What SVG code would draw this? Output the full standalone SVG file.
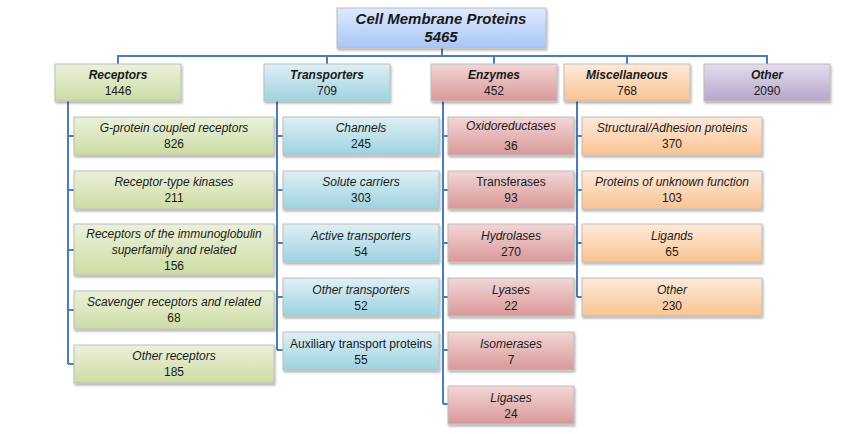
<svg xmlns="http://www.w3.org/2000/svg" width="862" height="434" viewBox="0 0 862 434">
<defs>
<linearGradient id="gRoot" x1="0" y1="0" x2="0" y2="1"><stop offset="0" stop-color="#dfe9ff"/><stop offset="1" stop-color="#a9c6f7"/></linearGradient>
<linearGradient id="gRec" x1="0" y1="0" x2="0" y2="1"><stop offset="0" stop-color="#ebf1dc"/><stop offset="1" stop-color="#cddca3"/></linearGradient>
<linearGradient id="gTr" x1="0" y1="0" x2="0" y2="1"><stop offset="0" stop-color="#dff0f5"/><stop offset="1" stop-color="#9dd2e0"/></linearGradient>
<linearGradient id="gEn" x1="0" y1="0" x2="0" y2="1"><stop offset="0" stop-color="#f3d6d6"/><stop offset="1" stop-color="#d99898"/></linearGradient>
<linearGradient id="gMi" x1="0" y1="0" x2="0" y2="1"><stop offset="0" stop-color="#feeadb"/><stop offset="1" stop-color="#fac392"/></linearGradient>
<linearGradient id="gOt" x1="0" y1="0" x2="0" y2="1"><stop offset="0" stop-color="#e4dcee"/><stop offset="1" stop-color="#b6a6cb"/></linearGradient>
<filter id="sh" x="-10%" y="-10%" width="130%" height="140%"><feDropShadow dx="1" dy="2" stdDeviation="1" flood-color="#000" flood-opacity="0.3"/></filter>
</defs>
<style>
rect{stroke:#bdbdbd;stroke-width:1;filter:url(#sh)}
.root{fill:url(#gRoot)}
.rec{fill:url(#gRec)}
.tr{fill:url(#gTr)}
.en{fill:url(#gEn)}
.mi{fill:url(#gMi)}
.ot{fill:url(#gOt)}
text{font-family:"Liberation Sans",Arial,sans-serif;font-size:12px;fill:#1a1a1a;text-anchor:middle}
.t{font-weight:bold;font-style:italic}
.rt{font-weight:bold;font-style:italic;font-size:15px}
.i{font-style:italic}
#connectors path{fill:none;stroke:#4a7ebb;stroke-width:2}
</style>
<g id="connectors">
<path d="M442,48V56M118,64V56H767V64M327,56V64M494,56V64M627,56V64"/>
<path d="M68,101V364M68,136H74M68,190H74M68,250H74M68,310H74M68,364H74"/>
<path d="M277,101V350M277,136H283M277,190H283M277,243H283M277,297H283M277,350H283"/>
<path d="M443,101V404M443,136H448M443,190H448M443,243H448M443,297H448M443,350H448M443,404H448"/>
<path d="M577,101V297M577,136H582M577,190H582M577,243H582M577,297H582"/>
</g>
<g id="root"><rect class="root" x="337" y="8" width="209" height="40"/><text class="rt" x="441" y="24">Cell Membrane Proteins</text><text class="rt" x="441" y="42">5465</text></g>

<g id="receptors"><rect class="rec" x="55" y="64" width="126" height="37"/><text class="t" x="118" y="79">Receptors</text><text x="118" y="95">1446</text></g>
<g id="transporters"><rect class="tr" x="264" y="64" width="126" height="37"/><text class="t" x="327" y="79">Transporters</text><text x="327" y="95">709</text></g>
<g id="enzymes"><rect class="en" x="431" y="64" width="126" height="37"/><text class="t" x="494" y="79">Enzymes</text><text x="494" y="95">452</text></g>
<g id="misc"><rect class="mi" x="564" y="64" width="126" height="37"/><text class="t" x="627" y="79">Miscellaneous</text><text x="627" y="95">768</text></g>
<g id="other"><rect class="ot" x="704" y="64" width="126" height="37"/><text class="t" x="767" y="79">Other</text><text x="767" y="95">2090</text></g>

<g id="rec1"><rect class="rec" x="74" y="117" width="200" height="38"/><text class="i" x="174" y="132">G-protein coupled receptors</text><text x="174" y="148">826</text></g>
<g id="rec2"><rect class="rec" x="74" y="171" width="200" height="38"/><text class="i" x="174" y="186">Receptor-type kinases</text><text x="174" y="202">211</text></g>
<g id="rec3"><rect class="rec" x="74" y="224" width="200" height="51"/><text class="i" x="174" y="238">Receptors of the immunoglobulin</text><text class="i" x="174" y="254">superfamily and related</text><text x="174" y="270">156</text></g>
<g id="rec4"><rect class="rec" x="74" y="291" width="200" height="38"/><text class="i" x="174" y="306">Scavenger receptors and related</text><text x="174" y="322">68</text></g>
<g id="rec5"><rect class="rec" x="74" y="345" width="200" height="38"/><text class="i" x="174" y="360">Other receptors</text><text x="174" y="376">185</text></g>

<g id="tr1"><rect class="tr" x="283" y="117" width="156" height="38"/><text class="i" x="361" y="132">Channels</text><text x="361" y="148">245</text></g>
<g id="tr2"><rect class="tr" x="283" y="171" width="156" height="38"/><text class="i" x="361" y="186">Solute carriers</text><text x="361" y="202">303</text></g>
<g id="tr3"><rect class="tr" x="283" y="224" width="156" height="38"/><text class="i" x="361" y="240">Active transporters</text><text x="361" y="256">54</text></g>
<g id="tr4"><rect class="tr" x="283" y="278" width="156" height="38"/><text class="i" x="361" y="294">Other transporters</text><text x="361" y="310">52</text></g>
<g id="tr5"><rect class="tr" x="283" y="332" width="156" height="38"/><text x="361" y="348">Auxiliary transport proteins</text><text x="361" y="364">55</text></g>

<g id="en1"><rect class="en" x="448" y="117" width="126" height="38"/><text class="i" x="511" y="130">Oxidoreductases</text><text x="511" y="150">36</text></g>
<g id="en2"><rect class="en" x="448" y="171" width="126" height="38"/><text x="511" y="186">Transferases</text><text x="511" y="202">93</text></g>
<g id="en3"><rect class="en" x="448" y="224" width="126" height="38"/><text class="i" x="511" y="240">Hydrolases</text><text x="511" y="256">270</text></g>
<g id="en4"><rect class="en" x="448" y="278" width="126" height="38"/><text class="i" x="511" y="294">Lyases</text><text x="511" y="310">22</text></g>
<g id="en5"><rect class="en" x="448" y="332" width="126" height="38"/><text class="i" x="511" y="348">Isomerases</text><text x="511" y="364">7</text></g>
<g id="en6"><rect class="en" x="448" y="386" width="126" height="38"/><text class="i" x="511" y="402">Ligases</text><text x="511" y="418">24</text></g>

<g id="mi1"><rect class="mi" x="582" y="117" width="180" height="38"/><text class="i" x="672" y="132">Structural/Adhesion proteins</text><text x="672" y="148">370</text></g>
<g id="mi2"><rect class="mi" x="582" y="171" width="180" height="38"/><text class="i" x="672" y="186">Proteins of unknown function</text><text x="672" y="202">103</text></g>
<g id="mi3"><rect class="mi" x="582" y="224" width="180" height="38"/><text class="i" x="672" y="240">Ligands</text><text x="672" y="256">65</text></g>
<g id="mi4"><rect class="mi" x="582" y="278" width="180" height="38"/><text class="i" x="672" y="294">Other</text><text x="672" y="310">230</text></g>
</svg>
